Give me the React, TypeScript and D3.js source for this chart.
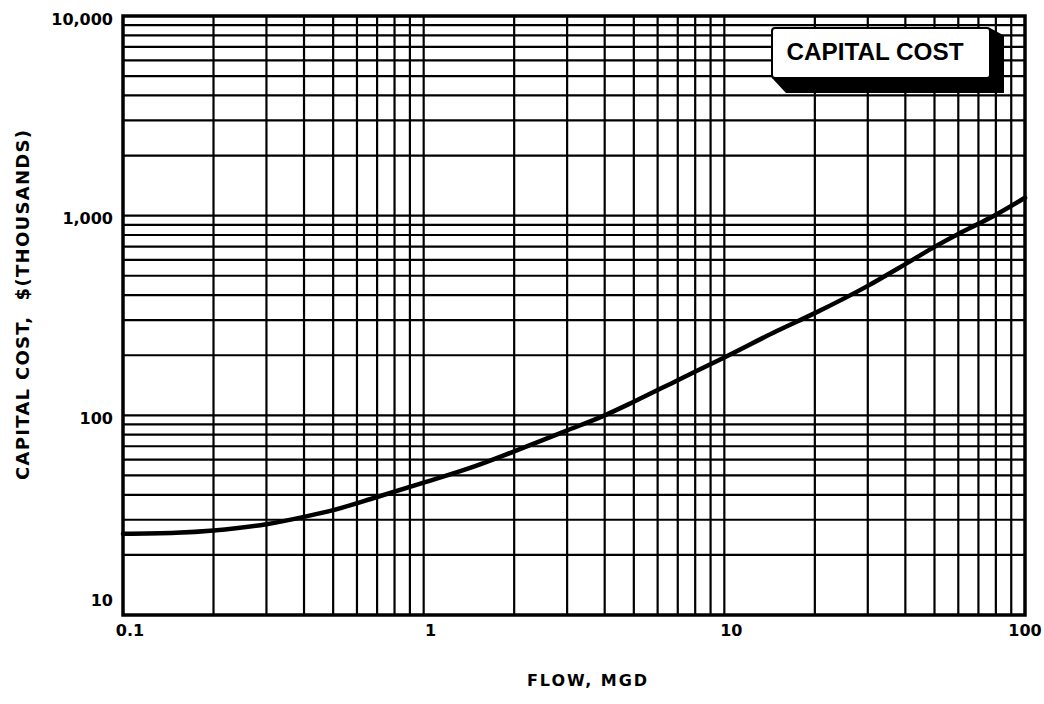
import React, { useEffect, useRef } from 'react';
import * as d3 from 'd3';

// flow in MGD, capital cost in $ thousands
const flowMgd = [0.1, 0.15, 0.2, 0.3, 0.4, 0.5, 0.7, 1, 1.5, 2, 3, 4, 5, 7, 10, 15, 20, 30, 40, 50, 60, 70, 80, 100];
const capitalCost = [25.5, 25.8, 26.5, 28.5, 31, 33.5, 39, 46, 56, 66, 84, 100, 117, 150, 195, 265, 325, 445, 572, 698, 810, 910, 1010, 1230];

const xTicks = [0.1, 1, 10, 100];
const xTickLabels = ['0.1', '1', '10', '100'];
const yTicks = [10, 100, 1000, 10000];
const yTickLabels = ['10', '100', '1,000', '10,000'];

const W = 1044;
const H = 704;
const FONT = '"DejaVu Sans", Arial, sans-serif';

const App = () => {
  const svgRef = useRef<SVGSVGElement>(null);

  useEffect(() => {
    const svg = d3.select(svgRef.current);
    svg.selectAll('*').remove();

    const margin = { top: 16, right: 19, bottom: 89, left: 123 };
    const x = d3.scaleLog().domain([0.1, 100]).range([margin.left, W - margin.right]);
    const y = d3.scaleLog().domain([10, 10000]).range([H - margin.bottom, margin.top]);

    // grid: 1..9 in every decade
    const xGrid: number[] = [];
    for (let d = 0.1; d < 100; d *= 10) for (let k = 2; k <= 9; k++) xGrid.push(+(d * k).toPrecision(3));
    const yGrid: number[] = [];
    for (let d = 10; d < 10000; d *= 10) for (let k = 1; k <= 9; k++) yGrid.push(d * k);

    const grid = svg.append('g').attr('stroke', '#000').attr('stroke-width', 2.2);
    grid.selectAll('line.v').data(xGrid.concat([1, 10])).enter().append('line')
      .attr('x1', d => x(d)).attr('x2', d => x(d))
      .attr('y1', y(10)).attr('y2', y(10000));
    grid.selectAll('line.h').data(yGrid).enter().append('line')
      .attr('x1', x(0.1)).attr('x2', x(100))
      .attr('y1', d => y(d)).attr('y2', d => y(d));

    // frame
    svg.append('rect')
      .attr('x', x(0.1)).attr('y', y(10000))
      .attr('width', x(100) - x(0.1)).attr('height', y(10) - y(10000))
      .attr('fill', 'none').attr('stroke', '#000').attr('stroke-width', 3.5);

    // cost curve
    const line = d3.line<number>()
      .x((_, i) => x(flowMgd[i]))
      .y(d => y(d))
      .curve(d3.curveMonotoneX);
    svg.append('path')
      .datum(capitalCost)
      .attr('fill', 'none')
      .attr('stroke', '#000')
      .attr('stroke-width', 4.5)
      .attr('stroke-linecap', 'round')
      .attr('d', line);

    // tick labels
    svg.append('g').selectAll('text').data(xTicks).enter().append('text')
      .attr('x', d => Math.min(x(d) + 7, W - 19))
      .attr('y', H - margin.bottom + 21)
      .attr('text-anchor', 'middle')
      .attr('font-family', FONT).attr('font-weight', 'bold').attr('font-size', 16)
      .text((_, i) => xTickLabels[i]);

    svg.append('g').selectAll('text').data(yTicks).enter().append('text')
      .attr('x', margin.left - 10)
      .attr('y', d => (d === 10 ? y(d) - 15 : y(d) + 3))
      .attr('dy', '0.35em')
      .attr('text-anchor', 'end')
      .attr('font-family', FONT).attr('font-weight', 'bold').attr('font-size', 16)
      .text((_, i) => yTickLabels[i]);

    // axis titles
    svg.append('text')
      .attr('x', 587).attr('y', 686)
      .attr('text-anchor', 'middle')
      .attr('font-family', FONT).attr('font-weight', 'bold').attr('font-size', 16)
      .attr('textLength', 120).attr('lengthAdjust', 'spacing')
      .text('FLOW, MGD');

    svg.append('text')
      .attr('transform', 'translate(29,305) rotate(-90)')
      .attr('text-anchor', 'middle')
      .attr('font-family', FONT).attr('font-weight', 'bold').attr('font-size', 18)
      .attr('textLength', 350).attr('lengthAdjust', 'spacing')
      .style('white-space', 'pre')
      .text('CAPITAL COST,  $(THOUSANDS)');

    // "CAPITAL COST" badge with extruded shadow
    const bx = 772, by = 28, bw = 218, bh = 50, dx = 14, dy = 15;
    const badge = svg.append('g');
    badge.append('path')
      .attr('d', `M${bx},${by + bh} L${bx + dx},${by + bh + dy} L${bx + bw + dx},${by + bh + dy} L${bx + bw + dx},${by + dy / 2} L${bx + bw},${by} Z`)
      .attr('fill', '#000');
    badge.append('rect')
      .attr('x', bx).attr('y', by).attr('width', bw).attr('height', bh).attr('rx', 3)
      .attr('fill', '#fff').attr('stroke', '#000').attr('stroke-width', 2);
    badge.append('text')
      .attr('x', bx + bw / 2 - 6).attr('y', by + 32)
      .attr('text-anchor', 'middle')
      .attr('font-family', '"Liberation Sans Narrow", "Liberation Sans", Arial, sans-serif')
      .attr('font-weight', 'bold').attr('font-size', 24)
      .attr('textLength', 177).attr('lengthAdjust', 'spacingAndGlyphs')
      .text('CAPITAL COST');
  }, []);

  return (
    <svg ref={svgRef} width={W} height={H}
      style={{ position: 'absolute', left: 0, top: 0, background: '#fff' }} />
  );
};

export default App;
